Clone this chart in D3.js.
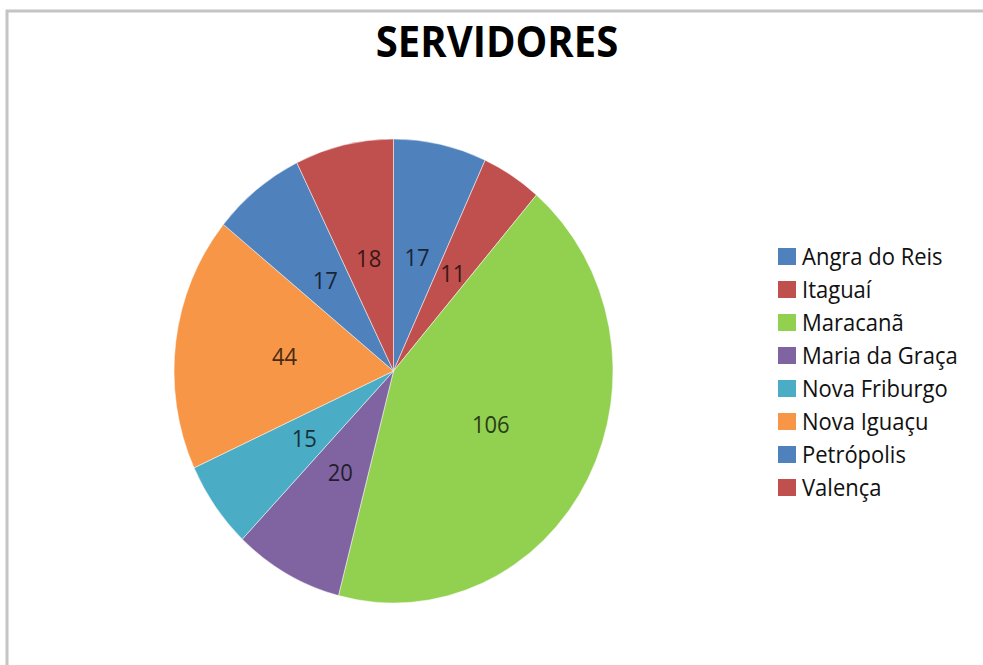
<!DOCTYPE html>
<html>
<head>
<meta charset="utf-8">
<script src="https://cdn.jsdelivr.net/npm/d3@7"></script>
<style>
  body { margin: 0; background: #fff; }
  svg { display: block; }
</style>
</head>
<body>
<svg id="chart"></svg>
<script>
const campus = ["Angra do Reis", "Itaguaí", "Maracanã", "Maria da Graça", "Nova Friburgo", "Nova Iguaçu", "Petrópolis", "Valença"]
const servidores = [17, 11, 106, 20, 15, 44, 17, 18]
const cores = ["#4F81BD", "#C0504D", "#92D050", "#8064A2", "#4BACC6", "#F79646", "#4F81BD", "#C0504D"]

const width = 983,
    height = 665

const cx = 393.5, cy = 371, radius = 219.5, stretchY = 1.057

const svg = d3.select("#chart")
    .attr("width", width)
    .attr("height", height)

// moldura cinza
svg.append("rect")
    .attr("x", 7).attr("y", 11)
    .attr("width", width + 20).attr("height", height + 20)
    .attr("fill", "#fff")
    .attr("stroke", "#c4c4c4")
    .attr("stroke-width", 3)

// titulo
svg.append("text")
    .attr("transform", "translate(497,56.5) scale(1,1.08)")
    .attr("text-anchor", "middle")
    .style("font-family", "'Open Sans', sans-serif")
    .style("font-weight", "bold")
    .style("font-size", "40px")
    .attr("fill", "#000")
    .text("SERVIDORES")

const pie = d3.pie().sort(null).value(function (d) { return d; })
const arcs = pie(servidores)
const arc = d3.arc().innerRadius(0).outerRadius(radius)

const g = svg.append("g")
    .attr("transform", "translate(" + cx + "," + cy + ") scale(1," + stretchY + ")")

g.selectAll("path")
    .data(arcs)
    .enter()
    .append("path")
    .attr("d", arc)
    .attr("fill", function (d, i) { return cores[i]; })
    .attr("stroke", "#fff")
    .attr("stroke-opacity", 0.6)
    .attr("stroke-width", 0.8)

// rotulos de valor
svg.append("g")
    .selectAll("text")
    .data(arcs)
    .enter()
    .append("text")
    .attr("transform", function (d) {
        const c = arc.centroid(d)
        return "translate(" + (cx + c[0]) + "," + (cy + c[1] * stretchY) + ") scale(1,1.1)"
    })
    .attr("dy", "0.36em")
    .attr("text-anchor", "middle")
    .style("font-family", "'Open Sans', sans-serif")
    .style("font-size", "22px")
    .attr("fill", function (d, i) { return d3.color(cores[i]).darker(3.5); })
    .text(function (d) { return d.data; })

// legenda
const legend = svg.append("g")
    .selectAll("g")
    .data(campus)
    .enter()
    .append("g")
    .attr("transform", function (d, i) { return "translate(778," + (256.5 + i * 33) + ")"; })

legend.append("rect")
    .attr("x", 0).attr("y", -8.5)
    .attr("width", 18).attr("height", 17)
    .attr("fill", function (d, i) { return cores[i]; })

legend.append("text")
    .attr("transform", "translate(24,8.5) scale(1,1.06)")
    .style("font-family", "'Open Sans', sans-serif")
    .style("font-size", "22px")
    .attr("fill", "#111")
    .text(function (d) { return d; })
</script>
</body>
</html>
